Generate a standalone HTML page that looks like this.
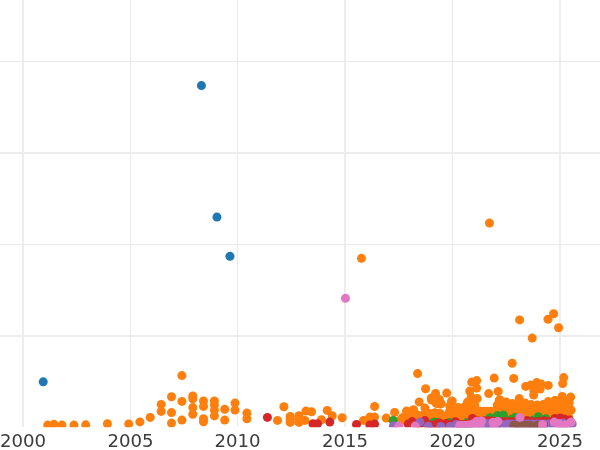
<!DOCTYPE html>
<html><head><meta charset="utf-8"><title>scatter</title>
<style>html,body{margin:0;padding:0;background:#fff;overflow:hidden}svg{display:block}text{font-family:"DejaVu Sans","Liberation Sans",sans-serif;font-size:18.1px;fill:#3c3c3c}</style></head><body>
<svg width="600" height="450" viewBox="0 0 600 450">
<rect width="600" height="450" fill="#fff"/>
<g shape-rendering="crispEdges">
<rect x="22" y="0" width="2" height="427" fill="#ededed"/>
<rect x="130" y="0" width="1" height="427" fill="#eaeaea"/>
<rect x="237" y="0" width="1" height="427" fill="#eaeaea"/>
<rect x="344" y="0" width="2" height="427" fill="#ededed"/>
<rect x="452" y="0" width="1" height="427" fill="#eaeaea"/>
<rect x="559" y="0" width="2" height="427" fill="#ededed"/>
<rect x="0" y="61" width="600" height="1" fill="#eaeaea"/>
<rect x="0" y="152" width="600" height="2" fill="#ededed"/>
<rect x="0" y="244" width="600" height="1" fill="#eaeaea"/>
<rect x="0" y="335" width="600" height="2" fill="#ededed"/>
</g>
<clipPath id="c"><rect x="0" y="0" width="600" height="427.25"/></clipPath>
<g clip-path="url(#c)">
<g fill="#1f77b4">
<circle cx="201.45" cy="85.60" r="4.52"/>
<circle cx="216.95" cy="217.10" r="4.52"/>
<circle cx="229.95" cy="256.35" r="4.52"/>
<circle cx="43.20" cy="381.85" r="4.52"/>
</g>
<g fill="#ff7f0e">
<circle cx="361.45" cy="258.35" r="4.52"/>
<circle cx="489.45" cy="223.10" r="4.52"/>
<circle cx="519.60" cy="319.90" r="4.52"/>
<circle cx="548.00" cy="319.30" r="4.52"/>
<circle cx="553.60" cy="313.70" r="4.52"/>
<circle cx="558.60" cy="327.70" r="4.52"/>
<circle cx="532.20" cy="338.10" r="4.52"/>
<circle cx="512.20" cy="363.30" r="4.52"/>
<circle cx="47.70" cy="425.10" r="4.52"/>
<circle cx="53.95" cy="424.35" r="4.52"/>
<circle cx="61.95" cy="425.10" r="4.52"/>
<circle cx="73.95" cy="425.10" r="4.52"/>
<circle cx="85.70" cy="424.85" r="4.52"/>
<circle cx="107.40" cy="423.80" r="4.52"/>
<circle cx="128.70" cy="423.90" r="4.52"/>
<circle cx="139.90" cy="421.90" r="4.52"/>
<circle cx="150.20" cy="417.40" r="4.52"/>
<circle cx="161.20" cy="404.40" r="4.52"/>
<circle cx="161.20" cy="411.40" r="4.52"/>
<circle cx="171.50" cy="396.80" r="4.52"/>
<circle cx="171.50" cy="412.60" r="4.52"/>
<circle cx="171.50" cy="423.10" r="4.52"/>
<circle cx="181.90" cy="375.60" r="4.52"/>
<circle cx="181.90" cy="401.40" r="4.52"/>
<circle cx="181.90" cy="420.10" r="4.52"/>
<circle cx="192.80" cy="395.90" r="4.52"/>
<circle cx="192.80" cy="398.80" r="4.52"/>
<circle cx="192.80" cy="407.60" r="4.52"/>
<circle cx="192.80" cy="414.30" r="4.52"/>
<circle cx="203.50" cy="400.90" r="4.52"/>
<circle cx="203.50" cy="406.40" r="4.52"/>
<circle cx="203.50" cy="418.80" r="4.52"/>
<circle cx="203.50" cy="421.80" r="4.52"/>
<circle cx="214.40" cy="400.90" r="4.52"/>
<circle cx="214.40" cy="405.10" r="4.52"/>
<circle cx="214.40" cy="410.10" r="4.52"/>
<circle cx="214.40" cy="415.90" r="4.52"/>
<circle cx="224.70" cy="409.30" r="4.52"/>
<circle cx="224.70" cy="420.10" r="4.52"/>
<circle cx="235.00" cy="403.10" r="4.52"/>
<circle cx="235.00" cy="410.10" r="4.52"/>
<circle cx="246.90" cy="413.10" r="4.52"/>
<circle cx="246.90" cy="418.80" r="4.52"/>
<circle cx="277.50" cy="420.40" r="4.52"/>
<circle cx="283.90" cy="406.70" r="4.52"/>
<circle cx="290.20" cy="416.40" r="4.52"/>
<circle cx="290.20" cy="422.40" r="4.52"/>
<circle cx="298.90" cy="415.80" r="4.52"/>
<circle cx="298.90" cy="422.40" r="4.52"/>
<circle cx="305.90" cy="411.10" r="4.52"/>
<circle cx="311.50" cy="411.80" r="4.52"/>
<circle cx="304.90" cy="420.40" r="4.52"/>
<circle cx="321.50" cy="419.80" r="4.52"/>
<circle cx="327.20" cy="410.40" r="4.52"/>
<circle cx="332.20" cy="415.80" r="4.52"/>
<circle cx="342.20" cy="417.80" r="4.52"/>
<circle cx="363.50" cy="420.40" r="4.52"/>
<circle cx="369.80" cy="417.10" r="4.52"/>
<circle cx="374.60" cy="417.10" r="4.52"/>
<circle cx="374.60" cy="406.40" r="4.52"/>
<circle cx="386.20" cy="418.10" r="4.52"/>
<circle cx="394.60" cy="412.40" r="4.52"/>
<circle cx="402.90" cy="419.10" r="4.52"/>
<circle cx="406.50" cy="411.10" r="4.52"/>
<circle cx="413.50" cy="410.40" r="4.52"/>
<circle cx="410.90" cy="416.40" r="4.52"/>
<circle cx="417.60" cy="373.60" r="4.52"/>
<circle cx="425.60" cy="388.80" r="4.52"/>
<circle cx="435.60" cy="393.40" r="4.52"/>
<circle cx="431.20" cy="398.10" r="4.52"/>
<circle cx="436.50" cy="402.80" r="4.52"/>
<circle cx="440.50" cy="403.80" r="4.52"/>
<circle cx="419.20" cy="401.90" r="4.52"/>
<circle cx="424.90" cy="408.10" r="4.52"/>
<circle cx="413.50" cy="409.80" r="4.52"/>
<circle cx="402.90" cy="417.40" r="4.52"/>
<circle cx="410.90" cy="415.40" r="4.52"/>
<circle cx="416.90" cy="414.80" r="4.52"/>
<circle cx="422.20" cy="415.40" r="4.52"/>
<circle cx="429.50" cy="413.40" r="4.52"/>
<circle cx="434.90" cy="412.80" r="4.52"/>
<circle cx="438.90" cy="413.40" r="4.52"/>
<circle cx="431.50" cy="400.10" r="4.52"/>
<circle cx="436.20" cy="403.40" r="4.52"/>
<circle cx="440.20" cy="404.10" r="4.52"/>
<circle cx="446.70" cy="393.10" r="4.52"/>
<circle cx="452.20" cy="401.10" r="4.52"/>
<circle cx="449.70" cy="406.10" r="4.52"/>
<circle cx="441.20" cy="403.60" r="4.52"/>
<circle cx="440.50" cy="413.70" r="4.52"/>
<circle cx="458.20" cy="407.60" r="4.52"/>
<circle cx="471.70" cy="382.10" r="4.52"/>
<circle cx="476.70" cy="380.60" r="4.52"/>
<circle cx="476.70" cy="388.10" r="4.52"/>
<circle cx="469.70" cy="391.10" r="4.52"/>
<circle cx="471.20" cy="397.10" r="4.52"/>
<circle cx="477.20" cy="398.60" r="4.52"/>
<circle cx="468.20" cy="403.10" r="4.52"/>
<circle cx="464.20" cy="407.10" r="4.52"/>
<circle cx="494.20" cy="378.10" r="4.52"/>
<circle cx="488.70" cy="393.60" r="4.52"/>
<circle cx="498.20" cy="391.40" r="4.52"/>
<circle cx="499.20" cy="400.10" r="4.52"/>
<circle cx="451.50" cy="401.40" r="4.52"/>
<circle cx="458.20" cy="408.10" r="4.52"/>
<circle cx="467.50" cy="402.10" r="4.52"/>
<circle cx="473.20" cy="403.10" r="4.52"/>
<circle cx="439.50" cy="414.80" r="4.52"/>
<circle cx="446.70" cy="416.10" r="4.52"/>
<circle cx="513.70" cy="378.40" r="4.52"/>
<circle cx="525.70" cy="386.40" r="4.52"/>
<circle cx="530.70" cy="385.10" r="4.52"/>
<circle cx="536.70" cy="382.60" r="4.52"/>
<circle cx="541.20" cy="384.10" r="4.52"/>
<circle cx="548.20" cy="385.40" r="4.52"/>
<circle cx="540.20" cy="389.10" r="4.52"/>
<circle cx="533.70" cy="395.10" r="4.52"/>
<circle cx="519.20" cy="398.60" r="4.52"/>
<circle cx="500.20" cy="400.10" r="4.52"/>
<circle cx="506.20" cy="402.10" r="4.52"/>
<circle cx="512.20" cy="403.60" r="4.52"/>
<circle cx="525.20" cy="403.10" r="4.52"/>
<circle cx="537.20" cy="405.10" r="4.52"/>
<circle cx="543.20" cy="404.60" r="4.52"/>
<circle cx="548.20" cy="401.60" r="4.52"/>
<circle cx="554.20" cy="401.10" r="4.52"/>
<circle cx="497.20" cy="405.10" r="4.52"/>
<circle cx="502.20" cy="406.10" r="4.52"/>
<circle cx="531.20" cy="404.60" r="4.52"/>
<circle cx="519.20" cy="404.10" r="4.52"/>
<circle cx="533.80" cy="390.60" r="4.52"/>
<circle cx="290.20" cy="419.40" r="4.52"/>
<circle cx="298.90" cy="419.10" r="4.52"/>
<circle cx="439.40" cy="399.50" r="4.52"/>
<circle cx="563.70" cy="377.60" r="4.52"/>
<circle cx="562.70" cy="383.60" r="4.52"/>
<circle cx="562.20" cy="396.40" r="4.52"/>
<circle cx="570.70" cy="397.10" r="4.52"/>
<circle cx="555.20" cy="400.60" r="4.52"/>
<circle cx="569.20" cy="403.10" r="4.52"/>
<circle cx="571.20" cy="410.10" r="4.52"/>
<circle cx="565.20" cy="401.10" r="4.52"/>
<circle cx="560.20" cy="402.10" r="4.52"/>
<circle cx="400.20" cy="420.10" r="4.52"/>
<circle cx="403.70" cy="420.10" r="4.52"/>
<circle cx="407.20" cy="420.10" r="4.52"/>
<circle cx="410.70" cy="420.10" r="4.52"/>
<circle cx="414.20" cy="420.10" r="4.52"/>
<circle cx="417.70" cy="420.10" r="4.52"/>
<circle cx="421.20" cy="420.10" r="4.52"/>
<circle cx="424.70" cy="420.10" r="4.52"/>
<circle cx="428.20" cy="420.10" r="4.52"/>
<circle cx="431.70" cy="420.10" r="4.52"/>
<circle cx="435.20" cy="420.10" r="4.52"/>
<circle cx="438.70" cy="420.10" r="4.52"/>
<circle cx="442.20" cy="420.10" r="4.52"/>
<circle cx="445.70" cy="420.10" r="4.52"/>
<circle cx="449.20" cy="420.10" r="4.52"/>
<circle cx="452.70" cy="420.10" r="4.52"/>
<circle cx="456.20" cy="420.10" r="4.52"/>
<circle cx="459.70" cy="420.10" r="4.52"/>
<circle cx="463.20" cy="420.10" r="4.52"/>
<circle cx="466.70" cy="420.10" r="4.52"/>
<circle cx="470.20" cy="420.10" r="4.52"/>
<circle cx="473.70" cy="420.10" r="4.52"/>
<circle cx="477.20" cy="420.10" r="4.52"/>
<circle cx="480.70" cy="420.10" r="4.52"/>
<circle cx="484.20" cy="420.10" r="4.52"/>
<circle cx="487.70" cy="420.10" r="4.52"/>
<circle cx="491.20" cy="420.10" r="4.52"/>
<circle cx="494.70" cy="420.10" r="4.52"/>
<circle cx="498.20" cy="420.10" r="4.52"/>
<circle cx="501.70" cy="420.10" r="4.52"/>
<circle cx="505.20" cy="420.10" r="4.52"/>
<circle cx="508.70" cy="420.10" r="4.52"/>
<circle cx="512.20" cy="420.10" r="4.52"/>
<circle cx="515.70" cy="420.10" r="4.52"/>
<circle cx="519.20" cy="420.10" r="4.52"/>
<circle cx="522.70" cy="420.10" r="4.52"/>
<circle cx="526.20" cy="420.10" r="4.52"/>
<circle cx="529.70" cy="420.10" r="4.52"/>
<circle cx="533.20" cy="420.10" r="4.52"/>
<circle cx="536.70" cy="420.10" r="4.52"/>
<circle cx="540.20" cy="420.10" r="4.52"/>
<circle cx="543.70" cy="420.10" r="4.52"/>
<circle cx="547.20" cy="420.10" r="4.52"/>
<circle cx="550.70" cy="420.10" r="4.52"/>
<circle cx="554.20" cy="420.10" r="4.52"/>
<circle cx="557.70" cy="420.10" r="4.52"/>
<circle cx="561.20" cy="420.10" r="4.52"/>
<circle cx="564.70" cy="420.10" r="4.52"/>
<circle cx="568.20" cy="420.10" r="4.52"/>
<circle cx="404.20" cy="417.10" r="4.52"/>
<circle cx="407.70" cy="417.10" r="4.52"/>
<circle cx="411.20" cy="417.10" r="4.52"/>
<circle cx="414.70" cy="417.10" r="4.52"/>
<circle cx="418.20" cy="417.10" r="4.52"/>
<circle cx="421.70" cy="417.10" r="4.52"/>
<circle cx="425.20" cy="417.10" r="4.52"/>
<circle cx="428.70" cy="417.10" r="4.52"/>
<circle cx="432.20" cy="417.10" r="4.52"/>
<circle cx="435.70" cy="417.10" r="4.52"/>
<circle cx="439.20" cy="417.10" r="4.52"/>
<circle cx="442.70" cy="417.10" r="4.52"/>
<circle cx="446.20" cy="417.10" r="4.52"/>
<circle cx="449.70" cy="417.10" r="4.52"/>
<circle cx="453.20" cy="417.10" r="4.52"/>
<circle cx="456.70" cy="417.10" r="4.52"/>
<circle cx="460.20" cy="417.10" r="4.52"/>
<circle cx="463.70" cy="417.10" r="4.52"/>
<circle cx="467.20" cy="417.10" r="4.52"/>
<circle cx="470.70" cy="417.10" r="4.52"/>
<circle cx="474.20" cy="417.10" r="4.52"/>
<circle cx="477.70" cy="417.10" r="4.52"/>
<circle cx="481.20" cy="417.10" r="4.52"/>
<circle cx="484.70" cy="417.10" r="4.52"/>
<circle cx="488.20" cy="417.10" r="4.52"/>
<circle cx="491.70" cy="417.10" r="4.52"/>
<circle cx="495.20" cy="417.10" r="4.52"/>
<circle cx="498.70" cy="417.10" r="4.52"/>
<circle cx="502.20" cy="417.10" r="4.52"/>
<circle cx="505.70" cy="417.10" r="4.52"/>
<circle cx="509.20" cy="417.10" r="4.52"/>
<circle cx="512.70" cy="417.10" r="4.52"/>
<circle cx="516.20" cy="417.10" r="4.52"/>
<circle cx="519.70" cy="417.10" r="4.52"/>
<circle cx="523.20" cy="417.10" r="4.52"/>
<circle cx="526.70" cy="417.10" r="4.52"/>
<circle cx="530.20" cy="417.10" r="4.52"/>
<circle cx="533.70" cy="417.10" r="4.52"/>
<circle cx="537.20" cy="417.10" r="4.52"/>
<circle cx="540.70" cy="417.10" r="4.52"/>
<circle cx="544.20" cy="417.10" r="4.52"/>
<circle cx="547.70" cy="417.10" r="4.52"/>
<circle cx="551.20" cy="417.10" r="4.52"/>
<circle cx="554.70" cy="417.10" r="4.52"/>
<circle cx="558.20" cy="417.10" r="4.52"/>
<circle cx="561.70" cy="417.10" r="4.52"/>
<circle cx="565.20" cy="417.10" r="4.52"/>
<circle cx="568.70" cy="417.10" r="4.52"/>
<circle cx="449.20" cy="412.10" r="4.52"/>
<circle cx="452.70" cy="412.10" r="4.52"/>
<circle cx="456.20" cy="412.10" r="4.52"/>
<circle cx="459.70" cy="412.10" r="4.52"/>
<circle cx="463.20" cy="412.10" r="4.52"/>
<circle cx="466.70" cy="412.10" r="4.52"/>
<circle cx="470.20" cy="412.10" r="4.52"/>
<circle cx="473.70" cy="412.10" r="4.52"/>
<circle cx="477.20" cy="412.10" r="4.52"/>
<circle cx="480.70" cy="412.10" r="4.52"/>
<circle cx="484.20" cy="412.10" r="4.52"/>
<circle cx="487.70" cy="412.10" r="4.52"/>
<circle cx="491.20" cy="412.10" r="4.52"/>
<circle cx="494.70" cy="412.10" r="4.52"/>
<circle cx="498.20" cy="412.10" r="4.52"/>
<circle cx="501.70" cy="412.10" r="4.52"/>
<circle cx="505.20" cy="412.10" r="4.52"/>
<circle cx="508.70" cy="412.10" r="4.52"/>
<circle cx="512.20" cy="412.10" r="4.52"/>
<circle cx="515.70" cy="412.10" r="4.52"/>
<circle cx="519.20" cy="412.10" r="4.52"/>
<circle cx="522.70" cy="412.10" r="4.52"/>
<circle cx="526.20" cy="412.10" r="4.52"/>
<circle cx="529.70" cy="412.10" r="4.52"/>
<circle cx="533.20" cy="412.10" r="4.52"/>
<circle cx="536.70" cy="412.10" r="4.52"/>
<circle cx="540.20" cy="412.10" r="4.52"/>
<circle cx="543.70" cy="412.10" r="4.52"/>
<circle cx="547.20" cy="412.10" r="4.52"/>
<circle cx="550.70" cy="412.10" r="4.52"/>
<circle cx="554.20" cy="412.10" r="4.52"/>
<circle cx="557.70" cy="412.10" r="4.52"/>
<circle cx="561.20" cy="412.10" r="4.52"/>
<circle cx="564.70" cy="412.10" r="4.52"/>
<circle cx="568.20" cy="412.10" r="4.52"/>
<circle cx="498.20" cy="408.40" r="4.52"/>
<circle cx="501.70" cy="408.40" r="4.52"/>
<circle cx="505.20" cy="408.40" r="4.52"/>
<circle cx="508.70" cy="408.40" r="4.52"/>
<circle cx="512.20" cy="408.40" r="4.52"/>
<circle cx="515.70" cy="408.40" r="4.52"/>
<circle cx="519.20" cy="408.40" r="4.52"/>
<circle cx="522.70" cy="408.40" r="4.52"/>
<circle cx="526.20" cy="408.40" r="4.52"/>
<circle cx="529.70" cy="408.40" r="4.52"/>
<circle cx="533.20" cy="408.40" r="4.52"/>
<circle cx="536.70" cy="408.40" r="4.52"/>
<circle cx="540.20" cy="408.40" r="4.52"/>
<circle cx="543.70" cy="408.40" r="4.52"/>
<circle cx="547.20" cy="408.40" r="4.52"/>
<circle cx="550.70" cy="408.40" r="4.52"/>
<circle cx="554.20" cy="408.40" r="4.52"/>
<circle cx="557.70" cy="408.40" r="4.52"/>
<circle cx="561.20" cy="408.40" r="4.52"/>
<circle cx="564.70" cy="408.40" r="4.52"/>
<circle cx="568.20" cy="408.40" r="4.52"/>
<circle cx="480.20" cy="411.20" r="4.52"/>
<circle cx="483.70" cy="411.20" r="4.52"/>
<circle cx="487.20" cy="411.20" r="4.52"/>
<circle cx="490.70" cy="411.20" r="4.52"/>
<circle cx="494.20" cy="411.20" r="4.52"/>
<circle cx="474.70" cy="405.10" r="4.52"/>
<circle cx="470.20" cy="408.10" r="4.52"/>
<circle cx="475.20" cy="408.40" r="4.52"/>
</g>
<g fill="#2ca02c">
<circle cx="393.20" cy="420.40" r="4.52"/>
<circle cx="433.90" cy="422.00" r="4.52"/>
<circle cx="449.50" cy="422.40" r="4.52"/>
<circle cx="436.90" cy="422.60" r="4.52"/>
<circle cx="466.90" cy="422.60" r="4.52"/>
<circle cx="489.90" cy="417.70" r="4.52"/>
<circle cx="497.50" cy="415.40" r="4.52"/>
<circle cx="503.50" cy="415.10" r="4.52"/>
<circle cx="511.20" cy="419.40" r="4.52"/>
<circle cx="514.90" cy="417.40" r="4.52"/>
<circle cx="532.70" cy="420.30" r="4.52"/>
<circle cx="538.20" cy="416.80" r="4.52"/>
<circle cx="545.80" cy="418.70" r="4.52"/>
</g>
<g fill="#d62728">
<circle cx="267.40" cy="417.40" r="4.52"/>
<circle cx="312.90" cy="423.80" r="4.52"/>
<circle cx="317.50" cy="423.80" r="4.52"/>
<circle cx="329.80" cy="422.10" r="4.52"/>
<circle cx="356.50" cy="424.40" r="4.52"/>
<circle cx="369.80" cy="425.10" r="4.52"/>
<circle cx="374.60" cy="424.10" r="4.52"/>
<circle cx="408.20" cy="424.10" r="4.52"/>
<circle cx="412.20" cy="421.60" r="4.52"/>
<circle cx="424.90" cy="420.60" r="4.52"/>
<circle cx="434.90" cy="425.00" r="4.52"/>
<circle cx="431.50" cy="425.00" r="4.52"/>
<circle cx="439.50" cy="423.10" r="4.52"/>
<circle cx="437.50" cy="423.60" r="4.52"/>
<circle cx="446.20" cy="423.60" r="4.52"/>
<circle cx="455.50" cy="421.70" r="4.52"/>
<circle cx="472.50" cy="418.40" r="4.52"/>
<circle cx="416.20" cy="424.10" r="4.52"/>
<circle cx="420.20" cy="424.10" r="4.52"/>
<circle cx="427.70" cy="424.70" r="4.52"/>
<circle cx="442.20" cy="424.60" r="4.52"/>
<circle cx="450.70" cy="424.60" r="4.52"/>
<circle cx="460.20" cy="424.40" r="4.52"/>
<circle cx="464.20" cy="424.40" r="4.52"/>
<circle cx="468.20" cy="424.10" r="4.52"/>
<circle cx="484.20" cy="420.70" r="4.52"/>
<circle cx="488.20" cy="420.70" r="4.52"/>
<circle cx="492.20" cy="420.90" r="4.52"/>
<circle cx="478.20" cy="421.10" r="4.52"/>
<circle cx="554.90" cy="418.40" r="4.52"/>
<circle cx="560.20" cy="418.10" r="4.52"/>
<circle cx="564.20" cy="418.90" r="4.52"/>
<circle cx="569.50" cy="420.10" r="4.52"/>
<circle cx="496.20" cy="421.70" r="4.52"/>
<circle cx="500.20" cy="421.70" r="4.52"/>
<circle cx="504.20" cy="421.70" r="4.52"/>
<circle cx="508.20" cy="421.70" r="4.52"/>
<circle cx="512.20" cy="421.70" r="4.52"/>
<circle cx="516.20" cy="421.70" r="4.52"/>
<circle cx="520.20" cy="421.70" r="4.52"/>
<circle cx="524.20" cy="421.70" r="4.52"/>
<circle cx="528.20" cy="421.70" r="4.52"/>
<circle cx="532.20" cy="421.70" r="4.52"/>
<circle cx="536.20" cy="421.70" r="4.52"/>
<circle cx="540.20" cy="421.70" r="4.52"/>
<circle cx="544.20" cy="421.70" r="4.52"/>
<circle cx="548.20" cy="421.70" r="4.52"/>
<circle cx="552.20" cy="421.70" r="4.52"/>
<circle cx="526.90" cy="420.40" r="4.52"/>
<circle cx="544.20" cy="420.70" r="4.52"/>
</g>
<g fill="#9467bd">
<circle cx="393.50" cy="425.80" r="4.52"/>
<circle cx="419.90" cy="422.10" r="4.52"/>
<circle cx="428.20" cy="426.30" r="4.52"/>
<circle cx="440.70" cy="426.40" r="4.52"/>
<circle cx="450.20" cy="426.40" r="4.52"/>
<circle cx="456.20" cy="424.60" r="4.52"/>
<circle cx="487.50" cy="423.40" r="4.52"/>
<circle cx="506.90" cy="424.40" r="4.52"/>
<circle cx="502.20" cy="424.60" r="4.52"/>
<circle cx="562.90" cy="423.10" r="4.52"/>
<circle cx="508.20" cy="423.90" r="4.52"/>
<circle cx="512.20" cy="423.90" r="4.52"/>
<circle cx="516.20" cy="423.90" r="4.52"/>
<circle cx="520.20" cy="423.90" r="4.52"/>
<circle cx="524.20" cy="423.90" r="4.52"/>
<circle cx="528.20" cy="423.90" r="4.52"/>
<circle cx="532.20" cy="423.90" r="4.52"/>
<circle cx="536.20" cy="423.90" r="4.52"/>
<circle cx="540.20" cy="423.90" r="4.52"/>
<circle cx="544.20" cy="423.90" r="4.52"/>
<circle cx="548.20" cy="423.90" r="4.52"/>
<circle cx="552.20" cy="423.90" r="4.52"/>
<circle cx="556.20" cy="423.90" r="4.52"/>
<circle cx="560.20" cy="423.90" r="4.52"/>
<circle cx="564.20" cy="423.90" r="4.52"/>
<circle cx="568.20" cy="423.90" r="4.52"/>
<circle cx="572.20" cy="423.90" r="4.52"/>
<circle cx="456.20" cy="425.60" r="4.52"/>
<circle cx="460.20" cy="425.60" r="4.52"/>
<circle cx="464.20" cy="425.60" r="4.52"/>
<circle cx="468.20" cy="425.60" r="4.52"/>
<circle cx="472.20" cy="425.60" r="4.52"/>
<circle cx="476.20" cy="425.60" r="4.52"/>
<circle cx="480.20" cy="425.60" r="4.52"/>
<circle cx="484.20" cy="425.60" r="4.52"/>
<circle cx="488.20" cy="425.60" r="4.52"/>
<circle cx="492.20" cy="425.60" r="4.52"/>
<circle cx="496.20" cy="425.60" r="4.52"/>
<circle cx="500.20" cy="425.60" r="4.52"/>
</g>
<g fill="#8c564b">
<circle cx="543.60" cy="424.60" r="4.52"/>
<circle cx="513.80" cy="425.30" r="4.52"/>
<circle cx="517.80" cy="425.30" r="4.52"/>
<circle cx="521.80" cy="425.30" r="4.52"/>
<circle cx="525.80" cy="425.30" r="4.52"/>
<circle cx="529.80" cy="425.30" r="4.52"/>
<circle cx="537.50" cy="425.30" r="4.52"/>
<circle cx="533.70" cy="426.40" r="4.52"/>
</g>
<g fill="#e377c2">
<circle cx="345.45" cy="298.35" r="4.52"/>
<circle cx="398.80" cy="426.10" r="4.52"/>
<circle cx="415.20" cy="426.10" r="4.52"/>
<circle cx="459.70" cy="425.30" r="4.52"/>
<circle cx="464.20" cy="425.30" r="4.52"/>
<circle cx="468.70" cy="425.10" r="4.52"/>
<circle cx="472.70" cy="424.10" r="4.52"/>
<circle cx="476.70" cy="421.40" r="4.52"/>
<circle cx="481.70" cy="420.90" r="4.52"/>
<circle cx="480.20" cy="424.60" r="4.52"/>
<circle cx="493.20" cy="422.30" r="4.52"/>
<circle cx="497.80" cy="421.40" r="4.52"/>
<circle cx="494.20" cy="424.60" r="4.52"/>
<circle cx="519.90" cy="417.40" r="4.52"/>
<circle cx="542.60" cy="424.40" r="4.52"/>
<circle cx="554.20" cy="422.10" r="4.52"/>
<circle cx="558.90" cy="423.50" r="4.52"/>
<circle cx="563.20" cy="425.60" r="4.52"/>
<circle cx="566.20" cy="424.70" r="4.52"/>
<circle cx="571.10" cy="422.10" r="4.52"/>
</g>
</g>
<g text-anchor="middle">
<text x="23" y="446.6">2000</text>
<text x="130.5" y="446.6">2005</text>
<text x="237.5" y="446.6">2010</text>
<text x="345" y="446.6">2015</text>
<text x="452.5" y="446.6">2020</text>
<text x="560" y="446.6">2025</text>
</g></svg></body></html>
